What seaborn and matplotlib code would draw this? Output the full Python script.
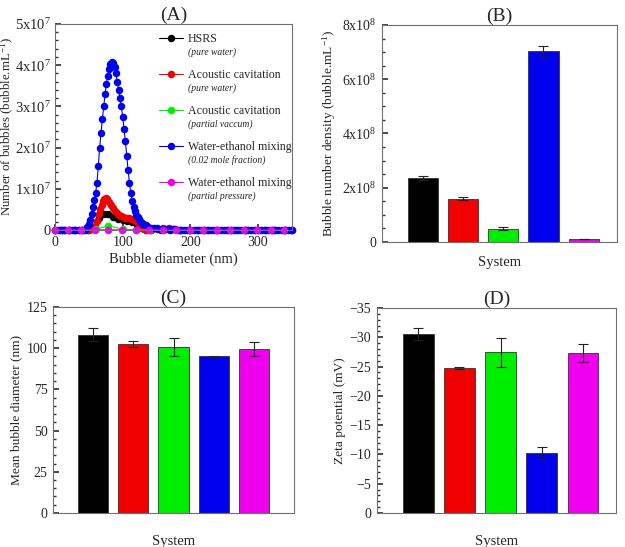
import matplotlib
matplotlib.use("Agg")
import matplotlib.pyplot as plt
import seaborn as sns
from matplotlib.ticker import AutoMinorLocator, FixedLocator

sns.set_theme(style="ticks")
plt.rcParams["font.family"] = ["Liberation Serif", "DejaVu Serif"]
plt.rcParams["mathtext.fontset"] = "custom"
plt.rcParams["mathtext.rm"] = "Liberation Serif"
plt.rcParams["mathtext.it"] = "Liberation Serif:italic"
plt.rcParams["axes.unicode_minus"] = True

# ---- data -------------------------------------------------------------
systems = ["HSRS", "Acoustic cavitation", "Acoustic cavitation",
           "Water-ethanol mixing", "Water-ethanol mixing"]
conditions = ["(pure water)", "(pure water)", "(partial vaccum)",
              "(0.02 mole fraction)", "(partial pressure)"]
colors = ["#000000", "#f00000", "#00ee00", "#0000ee", "#ee00ee"]

# (A) bubble size distributions, units of 1e7 bubble/mL
hsrs_x = [0, 7, 14, 21, 28, 35, 42, 49, 58, 65, 72, 79, 86, 93, 100, 107,
          114, 121, 128, 135, 142, 156, 170, 184, 198, 212, 226, 240, 254,
          268, 282, 296, 310, 324, 338, 349]
hsrs_y = [0, 0, 0, 0, 0, 0, 0, 0, 0.08, 0.28, 0.38, 0.39, 0.32, 0.27, 0.24,
          0.22, 0.2, 0.13, 0.05, 0.01, 0, 0, 0, 0, 0, 0, 0, 0, 0, 0, 0, 0,
          0, 0, 0, 0]

ac_x = [0, 10, 20, 30, 40, 50, 55, 59, 62, 65, 67, 69, 71, 73, 75, 77, 80,
        83, 86, 89, 92, 95, 98, 101, 104, 107, 110, 113, 116, 119, 122, 125,
        128, 131, 134, 140, 150, 160, 168, 176, 185, 200, 220, 240, 260, 280,
        300, 320, 340, 350]
ac_y = [0, 0, 0, 0, 0, 0, 0.03, 0.1, 0.22, 0.38, 0.5, 0.6, 0.7, 0.76, 0.78,
        0.75, 0.68, 0.6, 0.53, 0.47, 0.42, 0.37, 0.34, 0.31, 0.29, 0.29,
        0.28, 0.27, 0.25, 0.22, 0.17, 0.11, 0.06, 0.03, 0.01, 0.01, 0.02,
        0.04, 0.04, 0.03, 0.01, 0, 0, 0, 0, 0, 0, 0, 0, 0]

acv_x = [0, 20, 40, 60, 79, 100, 120, 140, 160, 180, 200, 220, 240, 260,
         280, 300, 320, 340]
acv_y = [0, 0, 0, 0.02, 0.1, 0.02, 0, 0, 0, 0, 0, 0, 0, 0, 0, 0, 0, 0]

we_x = [0, 5, 10, 15, 20, 25, 30, 35, 40, 44, 46, 48, 50, 52, 54, 56, 58,
        60, 62, 64, 66, 68, 70, 72, 74, 76, 78, 80, 82, 84, 86, 88, 90, 92,
        94, 96, 98, 100, 102, 104, 106, 108, 110, 112, 114, 116, 118, 120,
        122, 124, 126, 128, 130, 134, 138, 142, 146, 150, 154, 158, 162,
        166, 170, 174, 178, 182, 186, 190, 195, 200, 205, 210, 215, 220,
        225, 230, 235, 240, 245, 250, 255, 260, 265, 270, 275, 280, 285,
        290, 295, 300, 305, 310, 315, 320, 325, 330, 335, 340, 345, 350]
we_y = [0, 0, 0, 0, 0, 0, 0, 0, 0, 0.01, 0.03, 0.08, 0.15, 0.25, 0.4, 0.55,
        0.72, 0.9, 1.15, 1.55, 2.0, 2.35, 2.7, 3.0, 3.3, 3.55, 3.75, 3.9,
        4.02, 4.07, 4.05, 3.95, 3.8, 3.6, 3.4, 3.2, 3.0, 2.75, 2.45, 2.15,
        1.8, 1.45, 1.15, 0.9, 0.7, 0.55, 0.45, 0.37, 0.31, 0.26, 0.22, 0.18,
        0.15, 0.11, 0.08, 0.06, 0.05, 0.04, 0.035, 0.03, 0.03, 0.025, 0.02,
        0.02, 0.015, 0.01, 0.01, 0.005, 0, 0, 0, 0, 0, 0, 0, 0, 0, 0, 0, 0,
        0, 0, 0, 0, 0, 0, 0, 0, 0, 0, 0, 0, 0, 0, 0, 0, 0, 0, 0, 0]

wep_x = [0, 19, 39, 59, 79, 99, 119, 139, 159, 179, 199, 219, 239, 259, 279,
         299, 319, 339]
wep_y = [0, 0, 0, 0, 0.01, 0, 0, 0, 0, 0, 0, 0, 0, 0, 0, 0, 0, 0]

# (B) bubble number density (1e8 bubble/mL)
density = [2.36, 1.60, 0.49, 7.03, 0.11]
density_err = [0.09, 0.06, 0.05, 0.21, 0.01]
# (C) mean bubble diameter (nm)
diameter = [108.2, 102.5, 100.7, 95.1, 99.7]
diameter_err = [4.0, 2.0, 5.3, 0.3, 4.3]
# (D) zeta potential (mV)
zeta = [-30.5, -24.7, -27.4, -10.3, -27.3]
zeta_err = [1.0, 0.2, 2.4, 1.0, 1.5]

# ---- figure -----------------------------------------------------------
fig = plt.figure(figsize=(6.25, 5.47), dpi=100)
axA = fig.add_axes([0.088, 0.5795, 0.379, 0.3766])
axB = fig.add_axes([0.611, 0.5576, 0.376, 0.3967])
axC = fig.add_axes([0.0848, 0.0622, 0.3856, 0.3766])
axD = fig.add_axes([0.6032, 0.0622, 0.3824, 0.3748])

frame = "#707070"


def style_axes(ax):
    for sp in ax.spines.values():
        sp.set_color(frame)
        sp.set_linewidth(0.8)
    ax.tick_params(which="both", direction="in", color="#333333",
                   labelsize=10, pad=4)
    ax.tick_params(which="major", length=4)
    ax.tick_params(which="minor", length=2)


# (A)
series = [(hsrs_x, hsrs_y), (ac_x, ac_y), (acv_x, acv_y), (we_x, we_y),
          (wep_x, wep_y)]
for (xs, ys), c, s in zip(series, colors, systems):
    sns.lineplot(x=xs, y=[v * 1e7 for v in ys], ax=axA, color=c,
                 marker="o", markersize=5.4, markeredgewidth=0,
                 linewidth=0.8, label=s, clip_on=False, sort=False,
                 estimator=None)
axA.set_xlim(0, 350)
axA.set_ylim(0, 5e7)
axA.set_xticks([0, 100, 200, 300])
axA.yaxis.set_major_locator(FixedLocator([0, 1e7, 2e7, 3e7, 4e7, 5e7]))
axA.set_yticklabels(["0"] + [r"$\mathrm{%dx10^{7}}$" % i for i in range(1, 6)])
axA.yaxis.set_minor_locator(AutoMinorLocator(5))
axA.set_xlabel("Bubble diameter (nm)", fontsize=10.5, labelpad=3)
axA.set_ylabel(r"Number of bubbles (bubble.mL$^{-1}$)", fontsize=9.3)
axA.yaxis.set_label_coords(-0.165, 0.5)
axA.set_title("(A)", fontsize=14, pad=3)
style_axes(axA)
axA.tick_params(axis="y", labelsize=10.5, pad=3)

leg = axA.legend(loc="upper left", bbox_to_anchor=(0.44, 0.955),
                 frameon=False, fontsize=8.6, handlelength=2.0,
                 handletextpad=0.4, labelspacing=2.0, borderpad=0,
                 borderaxespad=0)
for t, cond in zip(leg.get_texts(), conditions):
    axA.annotate(cond, xy=(0, 0), xycoords=t, xytext=(0, -1.5),
                 textcoords="offset points", va="top", ha="left",
                 fontsize=6.9, style="italic", zorder=6)


def bar_panel(ax, vals, errs, title, ylabel):
    sns.barplot(x=list(range(len(vals))), y=vals, hue=list(range(len(vals))),
                palette=colors, legend=False, ax=ax, errorbar=None,
                width=0.75, edgecolor="#333333", linewidth=0.6,
                saturation=1)
    centers = [p.get_x() + p.get_width() / 2 for p in ax.patches]
    ax.errorbar(centers, vals, yerr=errs, fmt="none", ecolor="#222222",
                elinewidth=0.8, capsize=3.5, capthick=0.8)
    ax.set_xticks([])
    ax.set_xlabel("System", fontsize=10.5, labelpad=10)
    ax.set_ylabel(ylabel, fontsize=9.6, labelpad=3)
    ax.set_title(title, fontsize=14, pad=3)
    style_axes(ax)


bar_panel(axB, [v * 1e8 for v in density], [e * 1e8 for e in density_err],
          "(B)", r"Bubble number density (bubble.mL$^{-1}$)")
axB.set_xlim(-1.03, 4.83)
axB.set_ylim(0, 8e8)
axB.yaxis.set_major_locator(FixedLocator([0, 2e8, 4e8, 6e8, 8e8]))
axB.set_yticklabels(["0"] + [r"$\mathrm{%dx10^{8}}$" % i for i in (2, 4, 6, 8)])
axB.yaxis.set_minor_locator(AutoMinorLocator(4))

bar_panel(axC, diameter, diameter_err, "(C)", "Mean bubble diameter (nm)")
axC.set_xlim(-1.01, 5.01)
axC.set_ylim(0, 125)
axC.set_yticks([0, 25, 50, 75, 100, 125])
axC.yaxis.set_minor_locator(AutoMinorLocator(5))
axC.xaxis.labelpad = 16

bar_panel(axD, zeta, zeta_err, "(D)", "Zeta potential (mV)")
axD.set_xlim(-1.0, 4.8)
axD.set_ylim(0, -35)
axD.set_yticks([0, -5, -10, -15, -20, -25, -30, -35])
axD.yaxis.set_minor_locator(AutoMinorLocator(5))
axD.xaxis.labelpad = 16

fig.canvas.draw()
fig.savefig("out.png", dpi=100)
